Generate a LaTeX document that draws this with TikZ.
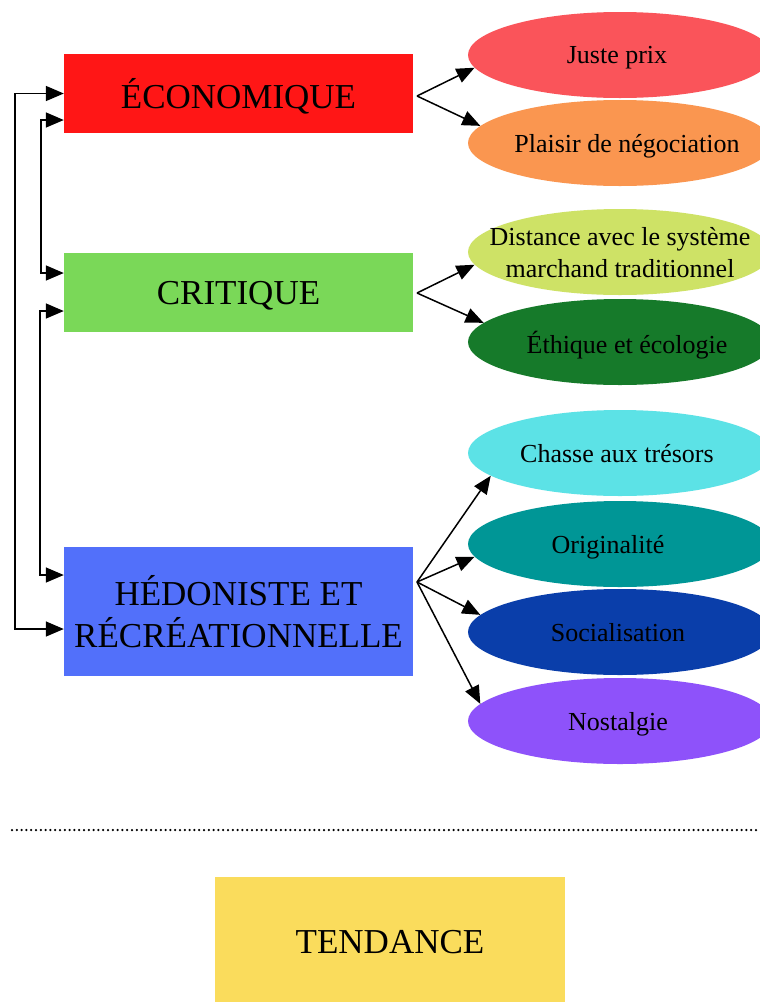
\documentclass[tikz,border=0pt]{standalone}
\usepackage{fontspec}
\setmainfont{Liberation Serif}
\usetikzlibrary{shapes.geometric,arrows.meta}
\definecolor{ecored}{RGB}{255,22,22}
\definecolor{critgreen}{RGB}{122,216,88}
\definecolor{hedoblue}{RGB}{82,112,250}
\definecolor{tendyellow}{RGB}{250,220,92}
\definecolor{justered}{RGB}{250,84,90}
\definecolor{plaisirorange}{RGB}{250,150,80}
\definecolor{distlime}{RGB}{206,226,102}
\definecolor{ethgreen}{RGB}{22,122,42}
\definecolor{chassecyan}{RGB}{92,226,230}
\definecolor{origteal}{RGB}{0,150,150}
\definecolor{socnavy}{RGB}{10,62,170}
\definecolor{nostpurple}{RGB}{142,82,250}
\newcommand{\tight}[1]{\makebox[0pt]{#1}}
\begin{document}
\begin{tikzpicture}[x=1pt,y=-1pt,
    category/.style ={rectangle, minimum width=349pt, minimum height=79pt, inner sep=0pt, text depth=0pt, align=center, font=\fontsize{35}{42}\selectfont},
    motive/.style ={ellipse, minimum width=304pt, minimum height=86pt, inner sep=0pt, text depth=0pt, align=center, font=\fontsize{26}{32}\selectfont},
    link/.style ={line width=1.5pt, -{Triangle[length=18pt,width=15pt]}},
    pair/.style ={line width=1.5pt, {Triangle[length=18pt,width=15pt]}-{Triangle[length=18pt,width=15pt]}}]
   \useasboundingbox (0,0) rectangle (760,1002);
   \fill[white] (0,0) rectangle (760,1002);

   \node[category, fill=ecored] (eco) at (238.5,93.5) {ÉCONOMIQUE};
   \node[category, fill=critgreen] (crit) at (238.5,292.5) {CRITIQUE};
   \node[category, fill=hedoblue, minimum height=129pt] (hedo) at (238.5,611.5) {HÉDONISTE ET\\RÉCRÉATIONNELLE};
   \node[category, fill=tendyellow, minimum width=350pt, minimum height=130pt] (tend) at (390,942) {TENDANCE};

   \node[motive, fill=justered] (juste) at (620,55) {\tight{\hspace{-6pt}Juste prix}};
   \node[motive, fill=plaisirorange] (plaisir) at (620,143) {\tight{\hspace{14pt}Plaisir de négociation}};
   \node[motive, fill=distlime] (dist) at (620,252) {\tight{Distance avec le système}\\\tight{marchand traditionnel}};
   \node[motive, fill=ethgreen] (eth) at (620,342) {\tight{\hspace{14pt}Éthique et écologie}};
   \node[motive, fill=chassecyan] (chasse) at (620,453) {\tight{\hspace{-6pt}Chasse aux trésors}};
   \node[motive, fill=origteal] (orig) at (620,544) {\tight{\hspace{-24pt}Originalité}};
   \node[motive, fill=socnavy] (soc) at (620,632) {\tight{\hspace{-4pt}Socialisation}};
   \node[motive, fill=nostpurple] (nost) at (620,721) {\tight{\hspace{-4pt}Nostalgie}};

   \coordinate (ecoS) at (417,96);
   \coordinate (critS) at (417,293);
   \coordinate (hedoS) at (417,582);

   \draw[link] (ecoS) to (juste.185);
   \draw[link] (ecoS) to (plaisir.173);
   \draw[link] (critS) to (dist.185);
   \draw[link] (critS) to (eth.172);
   \draw[link] (hedoS) to (chasse.190);
   \draw[link] (hedoS) to (orig.185);
   \draw[link] (hedoS) to (soc.173);
   \draw[link] (hedoS) to (nost.173);

   \draw[pair] (eco.west) -- ++(-49,0) |- ([yshift=-17.5pt]hedo.west);
   \draw[pair] ([yshift=-26.5pt]eco.west) -- ++(-23,0) |- ([yshift=19.5pt]crit.west);
   \draw[pair] ([yshift=-18.5pt]crit.west) -- ++(-24,0) |- ([yshift=36.5pt]hedo.west);

   \coordinate (sepL) at (12,830);
   \coordinate (sepR) at (760,830);
   \draw[line width=2.5pt, line cap=round, dash pattern=on 0pt off 4.8pt] (sepL) -- (sepR);
 \end{tikzpicture}
\end{document}
